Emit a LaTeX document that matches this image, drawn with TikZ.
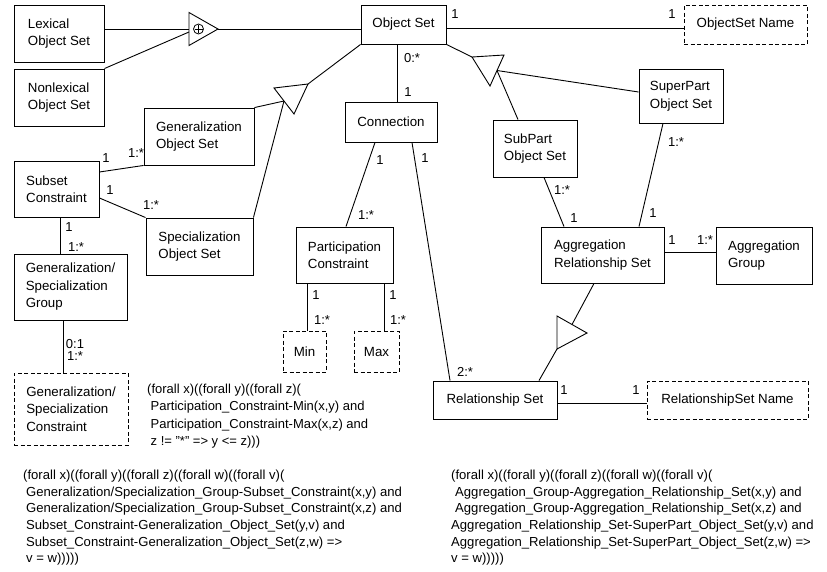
\documentclass[tikz,border=0pt]{standalone}
\usepackage{fontspec}
\setmainfont{Liberation Sans}
\newcommand\diagboxfont{\fontsize{13.3}{17.5}\selectfont}
\newcommand\diaglblfont{\fontsize{13}{15}\selectfont}
\newcommand\diagfrmfont{\fontsize{13}{17.2}\selectfont}
\newcommand\diagfrmfontb{\fontsize{13.1}{16.6}\selectfont}
\begin{document}
\begin{tikzpicture}[x=1pt,y=-1pt,
  box/.style={draw, line width=0.9pt, align=left, inner sep=0pt, font=\diagboxfont},
  dbox/.style={box, dash pattern=on 4pt off 2.5pt},
  lbl/.style={inner sep=0pt, font=\diaglblfont},
  link/.style={line width=0.9pt},
  frm/.style={anchor=north west, inner sep=0pt, align=left, font=\diagfrmfont},
  frmb/.style={frm, font=\diagfrmfontb}]
\useasboundingbox (0,0) rectangle (827,571);

% boxes
\node[box, minimum width=90pt, minimum height=57pt] (lex) at (59,33.5) {Lexical\\Object Set};
\node[box, minimum width=90pt, minimum height=57pt] (nonlex) at (59,97.5) {Nonlexical\\Object Set};
\node[box, minimum width=85pt, minimum height=39pt] (objset) at (403.5,24.5) {Object Set};
\node[dbox, minimum width=123pt, minimum height=39pt] (osname) at (745.5,24.5) {ObjectSet Name};
\node[box, minimum width=92pt, minimum height=40pt] (conn) at (391,122) {Connection};
\node[box, minimum width=110pt, minimum height=57pt] (genos) at (199,136.5) {Generalization\\Object Set};
\node[box, minimum width=107pt, minimum height=57pt] (specos) at (199.5,246.5) {Specialization\\Object Set};
\node[box, minimum width=85pt, minimum height=56pt] (subset) at (56.5,189) {Subset\\Constraint};
\node[box, minimum width=113pt, minimum height=66pt] (gsgroup) at (70.5,287) {Generalization/\\Specialization\\Group};
\node[dbox, minimum width=114pt, minimum height=72pt] (gscons) at (71,409) {Generalization/\\Specialization\\Constraint};
\node[box, minimum width=97pt, minimum height=56pt] (partc) at (344.5,255) {Participation\\Constraint};
\node[dbox, minimum width=43pt, minimum height=41pt] (min) at (304.5,351.5) {Min};
\node[dbox, minimum width=45pt, minimum height=41pt] (max) at (376.5,351.5) {Max};
\node[box, minimum width=124pt, minimum height=38pt] (relset) at (495,400) {Relationship Set};
\node[dbox, minimum width=161pt, minimum height=38pt] (rsname) at (727.5,400) {RelationshipSet Name};
\node[box, minimum width=84pt, minimum height=57pt] (subpart) at (535,148.5) {SubPart\\Object Set};
\node[box, minimum width=84pt, minimum height=54pt] (superpart) at (681,96) {SuperPart\\Object Set};
\node[box, minimum width=123pt, minimum height=56pt] (aggrel) at (602.5,255) {Aggregation\\Relationship Set};
\node[box, minimum width=96pt, minimum height=57pt] (agggroup) at (764,255.5) {Aggregation\\Group};

% triangles
\coordinate (ua) at (218,29); \coordinate (ut) at (189,12.5); \coordinate (ub) at (189,45.5);
\coordinate (um) at (189,29); \coordinate (um2) at (189,32);
\draw[link] (ut) -- (ua) -- (ub) -- cycle;
\draw[line width=0.8pt] (198.5,29) circle (5pt);
\draw[line width=0.8pt] (194.5,29) -- (202.5,29) (198.5,25) -- (198.5,33);

\coordinate (ga) at (308,84); \coordinate (g1) at (274,88); \coordinate (g2) at (294,114); \coordinate (gm) at (284,101);
\draw[link] (ga) -- (g1) -- (g2) -- cycle;
\coordinate (aa) at (472,57); \coordinate (a1) at (504,55); \coordinate (a2) at (490,86); \coordinate (am) at (497,70.5);
\draw[link] (aa) -- (a1) -- (a2) -- cycle;
\coordinate (ba) at (557,349); \coordinate (b1) at (557,316); \coordinate (b2) at (587,333); \coordinate (bm) at (572,324.5);
\draw[link] (ba) -- (b1) -- (b2) -- cycle;

% connectors
\draw[link] (lex.east |- um) -- (um);
\draw[link] (nonlex.north east) -- (um2);
\draw[link] (ua) -- (objset.west |- ua);
\draw[link] ([yshift=-3.5pt]objset.east) -- ([yshift=-3.5pt]osname.west);
\draw[link] (objset.south west) -- (ga);
\draw[link] (genos.north east) -- (gm);
\draw[link] (specos.north east) -- (gm);
\draw[link] ([xshift=-6.5pt]objset.south) -- ([xshift=6pt]conn.north);
\draw[link] (objset.south east) -- (aa);
\draw[link] ([xshift=-17pt]subpart.north) -- (am);
\draw[link] ([yshift=4pt]superpart.west) -- (am);
\draw[link] ([xshift=-16pt]conn.south) -- ([xshift=1.5pt]partc.north);
\draw[link] ([xshift=21pt]conn.south) -- ([xshift=-45pt]relset.north);
\draw[link] ([yshift=17pt]subset.east) -- (genos.south west);
\draw[link] ([yshift=-9pt]subset.east) -- (specos.north west);
\draw[link] ([xshift=3.5pt]subset.south) -- ([xshift=-10.5pt]gsgroup.north);
\draw[link] ([xshift=-7.5pt]gsgroup.south) -- ([xshift=-8pt]gscons.north);
\draw[link] ([xshift=-37.5pt]partc.south) -- ([xshift=2.5pt]min.north);
\draw[link] ([xshift=39.5pt]partc.south) -- ([xshift=7.5pt]max.north);
\draw[link] ([yshift=-3pt]relset.east) -- ([yshift=-3pt]rsname.west);
\draw[link] ([xshift=44pt]relset.north) -- (ba);
\draw[link] ([xshift=-8.5pt]aggrel.south) -- (bm);
\draw[link] ([xshift=9pt]subpart.south) -- ([xshift=-38.5pt]aggrel.north);
\draw[link] ([xshift=-18pt]superpart.south) -- ([xshift=36.5pt]aggrel.north);
\draw[link] ([yshift=3pt]aggrel.east) -- ([yshift=3.5pt]agggroup.west);

% labels
\node[lbl] (l1) at (455,14) {1};
\node[lbl] (l2) at (672,14) {1};
\node[lbl] (l3) at (412,58) {0:*};
\node[lbl] (l4) at (408,92) {1};
\node[lbl] (l5) at (380,160) {1};
\node[lbl] (l6) at (366,215) {1:*};
\node[lbl] (l7) at (425,158) {1};
\node[lbl] (l8) at (465,372) {2:*};
\node[lbl] (l9) at (106,158) {1};
\node[lbl] (l10) at (136,153) {1:*};
\node[lbl] (l11) at (110,190) {1};
\node[lbl] (l12) at (151,205) {1:*};
\node[lbl] (l13) at (69,227) {1};
\node[lbl] (l14) at (76,247) {1:*};
\node[lbl] (l15) at (75,344) {0:1};
\node[lbl] (l16) at (75,356) {1:*};
\node[lbl] (l17) at (316,295) {1};
\node[lbl] (l18) at (322,320) {1:*};
\node[lbl] (l19) at (393,295) {1};
\node[lbl] (l20) at (398,320) {1:*};
\node[lbl] (l21) at (564,390) {1};
\node[lbl] (l22) at (636,390) {1};
\node[lbl] (l23) at (562,190) {1:*};
\node[lbl] (l24) at (574,218) {1};
\node[lbl] (l25) at (676,142) {1:*};
\node[lbl] (l26) at (653,213) {1};
\node[lbl] (l27) at (672,240) {1};
\node[lbl] (l28) at (705,240) {1:*};

% formulas
\node[frm] (f1) at (147,384) {(forall x)((forall y)((forall z)(\\
\hspace*{3.5pt}Participation\_Constraint-Min(x,y) and\\
\hspace*{3.5pt}Participation\_Constraint-Max(x,z) and\\
\hspace*{3.5pt}z != "*" => y <= z)))};
\node[frmb] (f2) at (23,470) {(forall x)((forall y)((forall z)((forall w)((forall v)(\\
\hspace*{3pt}Generalization/Specialization\_Group-Subset\_Constraint(x,y) and\\
\hspace*{3pt}Generalization/Specialization\_Group-Subset\_Constraint(x,z) and\\
\hspace*{3pt}Subset\_Constraint-Generalization\_Object\_Set(y,v) and\\
\hspace*{3pt}Subset\_Constraint-Generalization\_Object\_Set(z,w) =>\\
\hspace*{3pt}v = w)))))};
\node[frmb] (f3) at (451,470) {(forall x)((forall y)((forall z)((forall w)((forall v)(\\
\hspace*{4pt}Aggregation\_Group-Aggregation\_Relationship\_Set(x,y) and\\
\hspace*{4pt}Aggregation\_Group-Aggregation\_Relationship\_Set(x,z) and\\
Aggregation\_Relationship\_Set-SuperPart\_Object\_Set(y,v) and\\
Aggregation\_Relationship\_Set-SuperPart\_Object\_Set(z,w) =>\\
v = w)))))};
\end{tikzpicture}
\end{document}
